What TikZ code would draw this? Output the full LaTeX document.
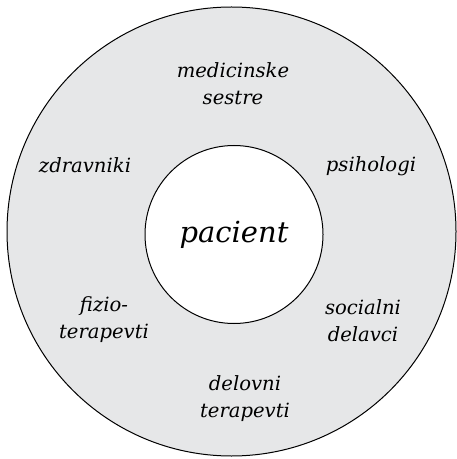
\documentclass[tikz,border=0pt]{standalone}
\usepackage{fontspec}
\setmainfont{DejaVu Serif}
\usepackage{tikz}
\usetikzlibrary{positioning}

\definecolor{ringgray}{HTML}{E6E7E8}

\begin{document}
\begin{tikzpicture}[
    x=0.5pt, y=-0.5pt,
    ring/.style={circle, draw, line width=0.5pt, fill=ringgray, inner sep=0pt, minimum size=224.5pt},
    core/.style={circle, draw, line width=0.5pt, fill=white, inner sep=0pt, minimum size=89pt, font=\fontsize{14.5}{17}\selectfont\itshape},
    role/.style={align=center, inner sep=0pt, font=\fontsize{9.8}{13.5}\selectfont\itshape}
]
\useasboundingbox (0,0) rectangle (456,459);
\node[ring] (team) at (231.5,231.5) {};
\node[core] (pacient) at (234,234.5) {pacient};

\node[role] (sestre) at (233,84) {medicinske\\sestre};
\node[role] (zdravniki) at (85,165) {zdravniki};
\node[role] (psihologi) at (371,166) {psihologi};
\node[role] (fizio) at (104,320) {fizio-\\terapevti};
\node[role] (socialni) at (363,321) {socialni\\delavci};
\node[role] (delovni) at (245,399) {delovni\\terapevti};
\end{tikzpicture}
\end{document}
